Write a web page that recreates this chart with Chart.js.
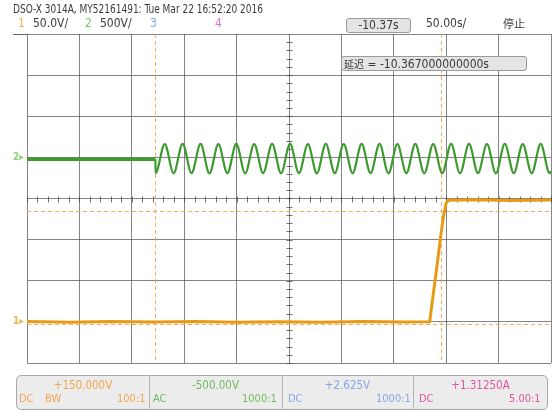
<!DOCTYPE html>
<html>
<head>
<meta charset="utf-8">
<script src="https://cdn.jsdelivr.net/npm/chart.js@4.4.1/dist/chart.umd.min.js"></script>
<style>
html, body { margin: 0; padding: 0; background: #fff; }
#scope { position: relative; width: 552px; height: 412px; overflow: hidden;
  font-family: "Liberation Sans Narrow", "DejaVu Sans Condensed", "Arial Narrow", sans-serif; color: #3a3a3a; }
#scope canvas { position: absolute; left: 0; top: 0; }
.t { position: absolute; white-space: nowrap; line-height: 1; }
.hdr { font-size: 11.5px; transform: scaleX(0.87); transform-origin: 0 0; }
.row2 { font-size: 12px; top: 17px; }
.box { position: absolute; background: #e4e4e4; border: 1px solid #9a9a9a; border-radius: 3px; box-sizing: border-box; }
.cjk { font-family: "Noto Sans CJK SC", sans-serif; }
#panel { position: absolute; left: 16px; top: 375px; width: 532px; height: 35px; background: #ececec;
  border: 1px solid #a9a9a9; border-radius: 5px; box-sizing: border-box; }
.sep { position: absolute; top: 375px; width: 1px; height: 35px; background: #b5b5b5; }
.pv { font-size: 11.5px; top: 380px; }
.pc { font-size: 11px; top: 393px; }
.mk { font-size: 10px; font-weight: bold; }
</style>
</head>
<body>
<div id="scope">
  <canvas id="chart" width="552" height="412"></canvas>

  <div class="t hdr" style="left:13px;top:4px;">DSO-X 3014A, MY52161491: Tue Mar 22 16:52:20 2016</div>
  <div class="t row2" style="left:18px;color:#f3b24a;">1</div>
  <div class="t row2" style="left:33px;">50.0V/</div>
  <div class="t row2" style="left:85px;color:#7cc46a;">2</div>
  <div class="t row2" style="left:100px;">500V/</div>
  <div class="t row2" style="left:150px;color:#7fa4e6;">3</div>
  <div class="t row2" style="left:215px;color:#dd6fc4;">4</div>

  <div class="box" style="left:346px;top:18px;width:65px;height:15px;"></div>
  <div class="t row2" style="left:346px;width:65px;text-align:center;top:19px;">-10.37s</div>
  <div class="t row2" style="left:426px;">50.00s/</div>
  <div class="t row2 cjk" style="left:503px;font-size:11px;top:18px;">停止</div>

  <div class="box" style="left:341px;top:56px;width:186px;height:15px;"></div>
  <div class="t" style="left:344px;top:58px;font-size:12px;"><span class="cjk" style="font-size:10px;">延迟</span> = -10.367000000000s</div>

  <div class="t mk" style="left:13px;top:152px;color:#8fd07c;">2▸</div>
  <div class="t mk" style="left:13px;top:316px;color:#f0b24e;">1▸</div>

  <div id="panel"></div>
  <div class="sep" style="left:149px;"></div>
  <div class="sep" style="left:282px;"></div>
  <div class="sep" style="left:413px;"></div>

  <div class="t pv" style="left:17px;width:132px;text-align:center;color:#f2a650;">+150.000V</div>
  <div class="t pc" style="left:19px;color:#f2a650;">DC</div>
  <div class="t pc" style="left:45px;color:#f2a650;">BW</div>
  <div class="t pc" style="left:117px;color:#f2a650;">100:1</div>

  <div class="t pv" style="left:149px;width:133px;text-align:center;color:#6dbd5c;">-500.00V</div>
  <div class="t pc" style="left:153px;color:#6dbd5c;">AC</div>
  <div class="t pc" style="left:242px;color:#6dbd5c;">1000:1</div>

  <div class="t pv" style="left:282px;width:131px;text-align:center;color:#8aa6e6;">+2.625V</div>
  <div class="t pc" style="left:288px;color:#8aa6e6;">DC</div>
  <div class="t pc" style="left:376px;color:#8aa6e6;">1000:1</div>

  <div class="t pv" style="left:413px;width:135px;text-align:center;color:#e0569e;">+1.31250A</div>
  <div class="t pc" style="left:419px;color:#e0569e;">DC</div>
  <div class="t pc" style="left:509px;color:#e0569e;">5.00:1</div>
</div>

<script>
// Time axis in ms relative to screen centre, 50 ms per division, 10 divisions.
const timeMin = -250, timeMax = 250, timeStep = 50;
const divisions = [-4, 4];

// Channel 1 (50 V/div, offset +150 V): step from 0 V up to ~148 V.
const ch1Times = [-250, -210, -170, -130, -90, -50, -10, 30, 70, 110, 134.2, 140.9, 144.7, 147.6, 150.0, 152.4, 180, 210, 250];
const ch1Volts = [0.6, -0.5, 0.4, -0.3, 0.5, -0.6, 0.2, -0.4, 0.5, -0.2, 0, 65, 104, 130, 144.5, 148, 148.6, 147.6, 148.2];

// Channel 2 (500 V/div, offset -500 V): idle baseline, then AC sine.
const ch2BaseTimes = [-250, -200, -160, -127.5];
const ch2BaseVolts = [-23, -24, -22, -23];
const ch2SineTimes = [-127.5, -127.3, -118.6, -110.1, -101.5, -93.0, -84.4, -75.9, -67.4, -58.8, -50.3,
  -41.8, -33.2, -24.7, -16.1, -7.6, 1.0, 9.5, 18.0, 26.6, 35.1, 43.7, 52.2, 60.7, 69.3, 77.8, 86.4,
  94.9, 103.4, 112.0, 120.5, 129.1, 137.6, 146.2, 154.7, 163.2, 171.8, 180.3, 188.9, 197.4, 205.9,
  214.5, 223.0, 231.6, 240.1, 248.7, 250];
const ch2SineVolts = [-23, -190, 162, -194, 165, -192, 163, -196, 161, -193, 164,
  -195, 162, -192, 165, -194, 163, -193, 161, -195, 164, -192, 162, -194, 165, -193, 163,
  -195, 161, -192, 164, -194, 162, -193, 165, -195, 163, -192, 161, -194, 164,
  -193, 162, -195, 163, -192, -170];

// Cursor positions: time cursors (ms) and channel-1 level cursors (V).
const cursorTimes = [-127.5, 145.2];
const cursorLevels = [-2, 135];

// Vertical settings per channel: centre value and volts per division.
const ch1Center = 150, ch1PerDiv = 50;
const ch2Center = -500, ch2PerDiv = 500;

const pts = (xs, ys) => xs.map((x, i) => ({ x: x, y: ys[i] }));

const scopeGrid = {
  id: 'scopeGrid',
  beforeDatasetsDraw(chart) {
    const { ctx, chartArea: a, scales } = chart;
    const sx = scales.x, sy = scales.y, s1 = scales.y1;
    ctx.save();
    // top border extends to the left of the graticule
    ctx.strokeStyle = 'rgba(70,70,70,0.85)';
    ctx.lineWidth = 1;
    ctx.beginPath();
    ctx.moveTo(13, Math.round(a.top) + 0.5);
    ctx.lineTo(a.left, Math.round(a.top) + 0.5);
    ctx.stroke();
    // minor ticks on the centre axes, 5 per division
    const cx = Math.round(sx.getPixelForValue(0)) + 0.5;
    const cy = Math.round(sy.getPixelForValue(0)) + 0.5;
    ctx.strokeStyle = 'rgba(70,70,70,0.75)';
    ctx.beginPath();
    for (let t = timeMin; t <= timeMax; t += timeStep / 5) {
      const px = Math.round(sx.getPixelForValue(t)) + 0.5;
      ctx.moveTo(px, cy - 3); ctx.lineTo(px, cy + 3);
    }
    for (let d = divisions[0]; d <= divisions[1]; d += 0.2) {
      const py = Math.round(sy.getPixelForValue(d)) + 0.5;
      ctx.moveTo(cx - 3, py); ctx.lineTo(cx + 3, py);
    }
    ctx.stroke();
    // cursors
    ctx.strokeStyle = 'rgba(245,165,70,0.9)';
    ctx.setLineDash([4, 3]);
    ctx.beginPath();
    cursorTimes.forEach(t => {
      const px = Math.round(sx.getPixelForValue(t)) + 0.5;
      ctx.moveTo(px, a.top); ctx.lineTo(px, a.bottom);
    });
    cursorLevels.forEach(v => {
      const py = Math.round(s1.getPixelForValue(v)) + 0.5;
      ctx.moveTo(a.left, py); ctx.lineTo(a.right, py);
    });
    ctx.stroke();
    ctx.restore();
  }
};

new Chart(document.getElementById('chart'), {
  type: 'line',
  data: {
    datasets: [
      { data: pts(ch2BaseTimes, ch2BaseVolts), yAxisID: 'y2', borderColor: '#3f9a2d', borderWidth: 3.5,
        pointRadius: 0, tension: 0 },
      { data: pts(ch2BaseTimes, ch2BaseVolts), yAxisID: 'y2', borderColor: 'rgba(20,70,15,0.7)', borderWidth: 1,
        borderDash: [3, 2], pointRadius: 0, tension: 0 },
      { data: pts(ch2SineTimes, ch2SineVolts), yAxisID: 'y2', borderColor: '#3d9a2e', borderWidth: 2.2,
        pointRadius: 0, cubicInterpolationMode: 'monotone' },
      { data: pts(ch1Times, ch1Volts), yAxisID: 'y1', borderColor: '#e99a14', borderWidth: 3,
        pointRadius: 0, tension: 0 },
      { data: pts(ch1Times, ch1Volts), yAxisID: 'y1', borderColor: 'rgba(120,65,0,0.6)', borderWidth: 1,
        borderDash: [2, 3], pointRadius: 0, tension: 0 }
    ]
  },
  options: {
    responsive: false,
    devicePixelRatio: 1,
    animation: false,
    layout: { padding: { left: 27, right: 1, top: 34, bottom: 49 } },
    plugins: { legend: { display: false }, tooltip: { enabled: false } },
    scales: {
      x: {
        type: 'linear', min: timeMin, max: timeMax,
        ticks: { display: false, stepSize: timeStep },
        grid: { color: 'rgba(85,85,85,0.72)', lineWidth: 1, drawTicks: false },
        border: { display: false }
      },
      y: {
        type: 'linear', min: divisions[0], max: divisions[1],
        ticks: { display: false, stepSize: 1 },
        grid: { color: 'rgba(85,85,85,0.72)', lineWidth: 1, drawTicks: false },
        border: { display: false }
      },
      y1: {
        type: 'linear', display: false,
        min: ch1Center - 4 * ch1PerDiv, max: ch1Center + 4 * ch1PerDiv
      },
      y2: {
        type: 'linear', display: false,
        min: ch2Center - 4 * ch2PerDiv, max: ch2Center + 4 * ch2PerDiv
      }
    }
  },
  plugins: [scopeGrid]
});
</script>
</body>
</html>
